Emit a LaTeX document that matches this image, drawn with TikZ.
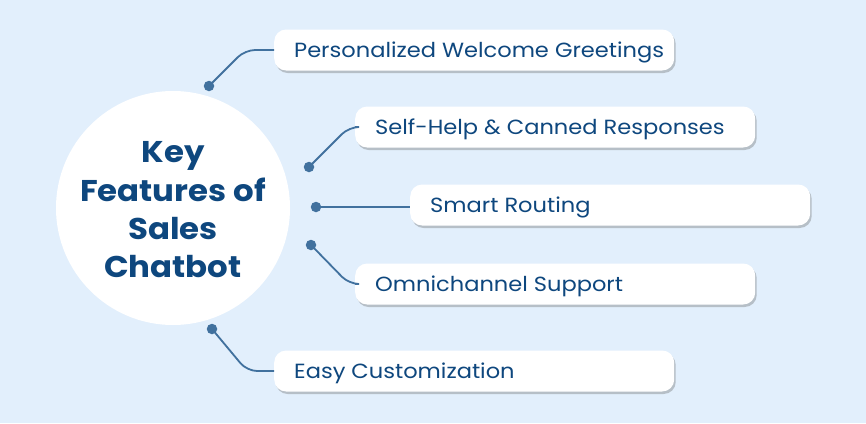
\documentclass[tikz,border=0pt]{standalone}
\usepackage{fontspec}
\setmainfont{Poppins}
\newfontfamily\featfont[FakeStretch=1.10]{Poppins}
\newfontfamily\hubfont[FakeStretch=1.08]{Poppins}
\usetikzlibrary{shadows}
\definecolor{bgc}{HTML}{E2EFFC}
\definecolor{txt}{HTML}{0E477E}
\definecolor{lnc}{HTML}{41719E}
\newcommand{\ftxt}[1]{\raisebox{-7pt}[0pt][0pt]{\makebox[360pt][l]{#1}}}
\begin{document}
\begin{tikzpicture}[x=1pt,y=-1pt,
  feat/.style={draw=none, fill=white, rounded corners=12pt, minimum height=41pt,
    inner xsep=20pt, inner ysep=0pt, anchor=west,
    font=\featfont\fontsize{20.5}{24}\selectfont, text=txt,
    drop shadow={shadow xshift=1.5pt, shadow yshift=-2.5pt, fill=black!60, opacity=0.35}},
  dot/.style={circle, fill=lnc, inner sep=0pt, minimum size=10.5pt},
  conn/.style={draw=lnc, line width=1.8pt, rounded corners=10pt}]
\fill[bgc] (0,0) rectangle (866,423);
\useasboundingbox (0,0) rectangle (866,423);
\node[circle, fill=white, minimum size=234pt, inner sep=0pt] (hub) at (173,208) {};
\node[text=txt, align=center, font=\hubfont\fontsize{30}{38.3}\selectfont\bfseries] (title) at (173,210)
  {Key\\Features of\\Sales\\Chatbot};
\node[feat] (b1) at (274,50) {\ftxt{Personalized Welcome Greetings}};
\node[feat] (b2) at (355,127) {\ftxt{Self-Help \& Canned Responses}};
\node[feat] (b3) at (410,205) {\ftxt{Smart Routing}};
\node[feat] (b4) at (355,284) {\ftxt{Omnichannel Support}};
\node[feat] (b5) at (274,371) {\ftxt{Easy Customization}};
\node[dot] (d1) at (209,86) {};
\node[dot] (d2) at (309,167) {};
\node[dot] (d3) at (316,207) {};
\node[dot] (d4) at (311,245) {};
\node[dot] (d5) at (212,329) {};
\coordinate (k1) at (245,50);
\coordinate (k2) at (349,127);
\coordinate (k4) at (349,284);
\coordinate (k5) at (247,371);
\draw[conn] (d1.center) -- (k1) -- (b1.west);
\draw[conn] (d2.center) -- (k2) -- (b2.west);
\draw[conn] (d3.center) -- (d3 -| b3.west);
\draw[conn] (d4.center) -- (k4) -- (b4.west);
\draw[conn] (d5.center) -- (k5) -- (b5.west);
\end{tikzpicture}
\end{document}
